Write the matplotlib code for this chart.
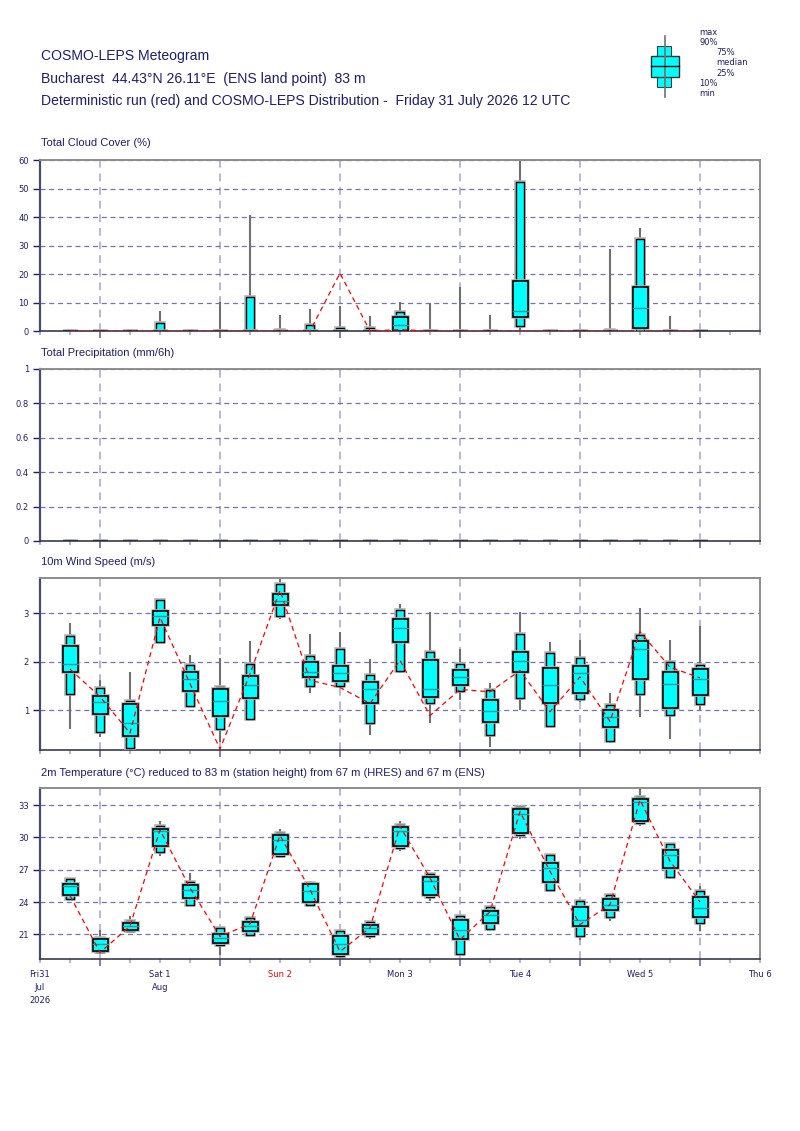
import matplotlib
matplotlib.use('Agg')
import matplotlib.pyplot as plt
import matplotlib.patheffects as pe
from matplotlib.patches import Rectangle

# forecast steps, hours after Fri 31 Jul 2026 12 UTC
hours = [6, 12, 18, 24, 30, 36, 42, 48, 54, 60, 66, 72, 78, 84, 90, 96, 102, 108, 114, 120, 126, 132]

day_pos = [0, 24, 48, 72, 96, 120, 144]
day_labels = ['Fri31\nJul\n2026', 'Sat 1\nAug', 'Sun 2', 'Mon 3', 'Tue 4', 'Wed 5', 'Thu 6']

# total cloud cover (%)
cloud_min = [0, 0, 0, 0, 0, 0, 0, 0, 0, 0, 0, 0, 0, 0, 0, 0, 0, 0, 0, 0, 0, 0]
cloud_p10 = [0, 0, 0, 0, 0, 0, 0, 0, 0, 0, 0, 0, 0, 0, 0, 1.8, 0, 0, 0, 0, 0, 0]
cloud_p25 = [0, 0, 0, 0, 0, 0, 0, 0, 0, 0, 0, 0, 0, 0, 0, 4.8, 0, 0, 0, 0.9, 0, 0]
cloud_med = [0, 0, 0, 0, 0, 0, 0, 0, 0, 0, 0, 2.1, 0, 0, 0, 6.9, 0, 0, 0, 8.0, 0, 0]
cloud_p75 = [0, 0, 0, 0, 0, 0, 0, 0, 0, 0, 0, 5.0, 0, 0, 0, 17.5, 0, 0, 0, 15.5, 0, 0]
cloud_p90 = [0, 0, 0, 2.9, 0, 0, 12.1, 0.5, 2.1, 1.0, 1.2, 6.8, 0, 0, 0, 52.3, 0, 0, 0.5, 32.3, 0, 0]
cloud_max = [0, 0, 0, 6.9, 0, 10.1, 40.6, 5.6, 7.6, 8.6, 5.4, 10.1, 10.0, 15.3, 5.5, 60, 0, 0.5, 28.9, 36.0, 5.4, 0]
cloud_det = [0, 0, 0, 0, 0, 0, 0, 0, 0, 20.3, 0, 0.5, 0, 0, 0, 0, 0, 0, 0, 0, 0, 0]

# total precipitation (mm/6h) - nothing at all
prec_min = [0] * 22
prec_p10 = [0] * 22
prec_p25 = [0] * 22
prec_med = [0] * 22
prec_p75 = [0] * 22
prec_p90 = [0] * 22
prec_max = [0] * 22
prec_det = [0] * 22

# 10m wind speed (m/s)
wind_min = [0.61, 0.44, 0.20, 2.40, 1.07, 0.35, 0.81, 2.88, 1.36, 1.50, 0.49, 1.76, 0.73, 1.21, 0.25, 1.01, 0.68, 1.18, 0.32, 0.86, 0.41, 1.01]
wind_p10 = [1.33, 0.55, 0.23, 2.40, 1.08, 0.61, 0.81, 2.94, 1.50, 1.50, 0.73, 1.82, 1.15, 1.40, 0.48, 1.25, 0.68, 1.23, 0.37, 1.33, 0.90, 1.12]
wind_p25 = [1.78, 0.92, 0.47, 2.77, 1.40, 0.89, 1.25, 3.17, 1.68, 1.60, 1.14, 2.40, 1.28, 1.52, 0.76, 1.80, 1.15, 1.36, 0.66, 1.64, 1.05, 1.31]
wind_med = [1.95, 1.17, 0.73, 2.94, 1.65, 1.19, 1.52, 3.25, 1.80, 1.77, 1.43, 2.70, 1.43, 1.69, 0.99, 2.01, 1.52, 1.76, 0.86, 2.26, 1.54, 1.65]
wind_p75 = [2.33, 1.29, 1.12, 3.05, 1.80, 1.43, 1.71, 3.40, 2.00, 1.92, 1.59, 2.88, 2.04, 1.83, 1.21, 2.21, 1.87, 1.92, 1.00, 2.44, 1.78, 1.85]
wind_p90 = [2.53, 1.45, 1.20, 3.27, 1.93, 1.47, 1.95, 3.60, 2.11, 2.26, 1.72, 3.06, 2.21, 1.95, 1.42, 2.57, 2.19, 2.07, 1.10, 2.55, 1.99, 1.94]
wind_max = [2.81, 1.62, 1.78, 3.29, 2.15, 2.07, 2.43, 3.72, 2.57, 2.61, 2.06, 3.19, 3.03, 2.26, 1.56, 3.03, 2.40, 2.45, 1.35, 3.12, 2.46, 2.74]
wind_det = [1.85, 1.28, 0.53, 2.92, 1.55, 0.20, 1.75, 3.48, 1.62, 1.47, 1.14, 2.03, 0.89, 1.43, 1.38, 1.82, 0.97, 1.69, 0.77, 2.62, 1.89, 1.67]

# 2m temperature (C)
temp_min = [24.31, 19.27, 21.28, 28.30, 23.60, 19.10, 20.95, 28.15, 23.76, 18.87, 20.60, 28.78, 24.07, 19.18, 21.50, 29.90, 25.15, 20.44, 22.20, 31.10, 26.14, 21.28]
temp_p10 = [24.31, 19.33, 21.28, 28.65, 23.76, 20.00, 20.95, 28.25, 23.76, 18.96, 20.81, 29.00, 24.44, 19.18, 21.50, 30.20, 25.15, 20.88, 22.58, 31.35, 26.29, 22.02]
temp_p25 = [24.69, 19.42, 21.44, 29.24, 24.38, 20.16, 21.30, 28.47, 24.04, 19.20, 21.04, 29.24, 24.69, 20.57, 22.06, 30.40, 25.87, 21.78, 23.30, 31.50, 27.13, 22.58]
temp_med = [25.46, 20.14, 21.75, 30.57, 25.10, 20.63, 21.80, 29.73, 25.00, 20.10, 21.60, 30.57, 25.93, 21.37, 22.77, 32.18, 27.18, 22.33, 23.76, 33.30, 28.33, 23.45]
temp_p75 = [25.68, 20.60, 22.06, 30.80, 25.59, 21.00, 22.15, 30.20, 25.68, 20.81, 21.84, 30.97, 26.33, 22.30, 23.13, 32.64, 27.60, 23.50, 24.29, 33.57, 28.84, 24.50]
temp_p90 = [26.10, 20.67, 22.20, 31.10, 25.87, 21.60, 22.50, 30.38, 25.77, 21.28, 22.15, 31.19, 26.60, 22.74, 23.50, 32.83, 28.40, 24.13, 24.63, 33.76, 29.40, 25.00]
temp_max = [26.20, 21.44, 22.74, 31.50, 26.70, 21.65, 22.58, 30.80, 25.93, 21.37, 22.27, 31.50, 26.70, 22.77, 23.60, 33.00, 28.47, 24.22, 24.69, 34.60, 29.45, 25.46]
temp_det = [24.60, 19.30, 21.75, 30.70, 25.30, 20.80, 21.96, 30.20, 25.15, 19.40, 21.60, 31.03, 26.24, 20.50, 23.10, 32.40, 26.85, 21.90, 23.76, 33.50, 27.80, 24.00]

NAVY = '#1e1e6e'
W, H = 800, 1131


def fx(px):
    return px / W


def fy(py):
    return 1 - py / H


def make_axes(fig, top, bottom):
    ax = fig.add_axes([fx(40), fy(bottom), fx(720), (bottom - top) / H])
    ax.set_xlim(0, 144)
    ax.set_xticks([12, 36, 60, 84, 108, 132])
    ax.set_xticks(list(range(0, 145, 6)), minor=True)
    ax.tick_params(axis='x', which='major', length=5, width=1.2, color='#6a6aa0', labelbottom=False)
    ax.tick_params(axis='x', which='minor', length=3, width=1.2, color='#a8a8d4', labelbottom=False)
    ax.tick_params(axis='y', length=5, width=1, color=NAVY, labelsize=6, labelcolor=NAVY, pad=3)
    ax.grid(axis='x', which='major', color='#b8b8dc', lw=1.4, ls=(0, (4, 3)))
    ax.grid(axis='y', color='#7474b0', lw=0.9, ls=(0, (4, 3)))
    ax.set_axisbelow(True)
    ax.spines['left'].set_color('#4a4a6e')
    ax.spines['left'].set_linewidth(1.6)
    ax.spines['bottom'].set_color('#3a3a50')
    ax.spines['bottom'].set_linewidth(1.2)
    ax.spines['top'].set_color('#8c8c8c')
    ax.spines['top'].set_linewidth(1.4)
    ax.spines['right'].set_color('#8c8c8c')
    ax.spines['right'].set_linewidth(1.4)
    return ax


def draw_boxes(ax, x, mn, p10, p25, med, p75, p90, mx, det):
    halo = [pe.Stroke(linewidth=2.6, foreground='#b4b4b4'), pe.Normal()]
    for i in range(len(x)):
        ax.plot([x[i], x[i]], [mn[i], mx[i]], color='#707070', lw=1.5, zorder=2,
                solid_capstyle='butt')
        ax.add_patch(Rectangle((x[i] - 0.75, p10[i]), 1.5, p90[i] - p10[i], fc='#00ffff',
                               ec='black', lw=1.0, zorder=3, path_effects=halo))
        ax.add_patch(Rectangle((x[i] - 1.5, p25[i]), 3, p75[i] - p25[i], fc='#00ffff',
                               ec='black', lw=1.2, zorder=4, path_effects=halo))
        ax.plot([x[i] - 1.5, x[i] + 1.5], [med[i], med[i]], color='#1a9a9a', lw=1.0, zorder=5)
    ax.plot(x, det, color='red', lw=0.9, ls=(0, (4, 3)), zorder=6)


fig = plt.figure(figsize=(8, 11.31), dpi=100)

# header
hfont = dict(family='Liberation Sans', size=10.1, color=NAVY, va='center')
fig.text(fx(41), fy(56), 'COSMO-LEPS Meteogram', **hfont)
fig.text(fx(41), fy(79), 'Bucharest  44.43\u00b0N 26.11\u00b0E  (ENS land point)  83 m', **hfont)
fig.text(fx(41), fy(101), 'Deterministic run (red) and COSMO-LEPS Distribution -  Friday 31 July 2026 12 UTC', **hfont)

# legend symbol
leg = fig.add_axes([fx(640), fy(102), fx(50), 72 / H])
leg.set_xlim(640, 690)
leg.set_ylim(102, 30)
leg.axis('off')
leg.plot([664.5, 664.5], [35.7, 97.3], color='#707070', lw=1.2)
leg.add_patch(Rectangle((657.3, 46), 14, 41, fc='#00ffff', ec='#404040', lw=0.8))
leg.add_patch(Rectangle((650.7, 56), 28, 21, fc='#00ffff', ec='#303030', lw=1.0))
leg.plot([650.7, 678.7], [66.3, 66.3], color='black', lw=1.0)
lfont = dict(family='DejaVu Sans', size=6, color=NAVY, va='center')
fig.text(fx(699), fy(32.7), 'max', **lfont)
fig.text(fx(699), fy(42.7), '90%', **lfont)
fig.text(fx(716.5), fy(52.7), '75%', **lfont)
fig.text(fx(716.5), fy(62.7), 'median', **lfont)
fig.text(fx(716.5), fy(73.3), '25%', **lfont)
fig.text(fx(699), fy(83.3), '10%', **lfont)
fig.text(fx(699), fy(93.3), 'min', **lfont)

tfont = dict(family='Liberation Sans', size=8, color=NAVY, va='center')

# cloud cover
ax1 = make_axes(fig, 160, 331)
ax1.set_ylim(0, 60)
ax1.set_yticks([0, 10, 20, 30, 40, 50, 60])
draw_boxes(ax1, hours, cloud_min, cloud_p10, cloud_p25, cloud_med, cloud_p75, cloud_p90, cloud_max, cloud_det)
fig.text(fx(41), fy(143), 'Total Cloud Cover (%)', **tfont)

# precipitation
ax2 = make_axes(fig, 369, 541)
ax2.set_ylim(0, 1)
ax2.set_yticks([0, 0.2, 0.4, 0.6, 0.8, 1])
ax2.set_yticklabels(['0', '0.2', '0.4', '0.6', '0.8', '1'])
draw_boxes(ax2, hours, prec_min, prec_p10, prec_p25, prec_med, prec_p75, prec_p90, prec_max, prec_det)
fig.text(fx(41), fy(353), 'Total Precipitation (mm/6h)', **tfont)

# wind
ax3 = make_axes(fig, 578, 750)
ax3.set_ylim(0.18, 3.73)
ax3.set_yticks([1, 2, 3])
draw_boxes(ax3, hours, wind_min, wind_p10, wind_p25, wind_med, wind_p75, wind_p90, wind_max, wind_det)
fig.text(fx(41), fy(562), '10m Wind Speed (m/s)', **tfont)

# temperature
ax4 = make_axes(fig, 788, 959)
ax4.set_ylim(18.7, 34.6)
ax4.set_yticks([21, 24, 27, 30, 33])
draw_boxes(ax4, hours, temp_min, temp_p10, temp_p25, temp_med, temp_p75, temp_p90, temp_max, temp_det)
fig.text(fx(41), fy(773), '2m Temperature (\u00b0C) reduced to 83 m (station height) from 67 m (HRES) and 67 m (ENS)', **tfont)

for ax in [ax1, ax2, ax3, ax4]:
    for lab in ax.get_yticklabels():
        lab.set_family('DejaVu Sans')

# day labels under the last panel
for pos, lab in zip(day_pos, day_labels):
    col = 'red' if lab.startswith('Sun') else NAVY
    ax4.annotate(lab, xy=(pos, 0), xycoords=('data', 'axes fraction'),
                 xytext=(0, -8), textcoords='offset points', ha='center', va='top',
                 fontsize=6, family='DejaVu Sans', color=col, linespacing=1.55,
                 annotation_clip=False)

plt.savefig('out.png', dpi=100)
